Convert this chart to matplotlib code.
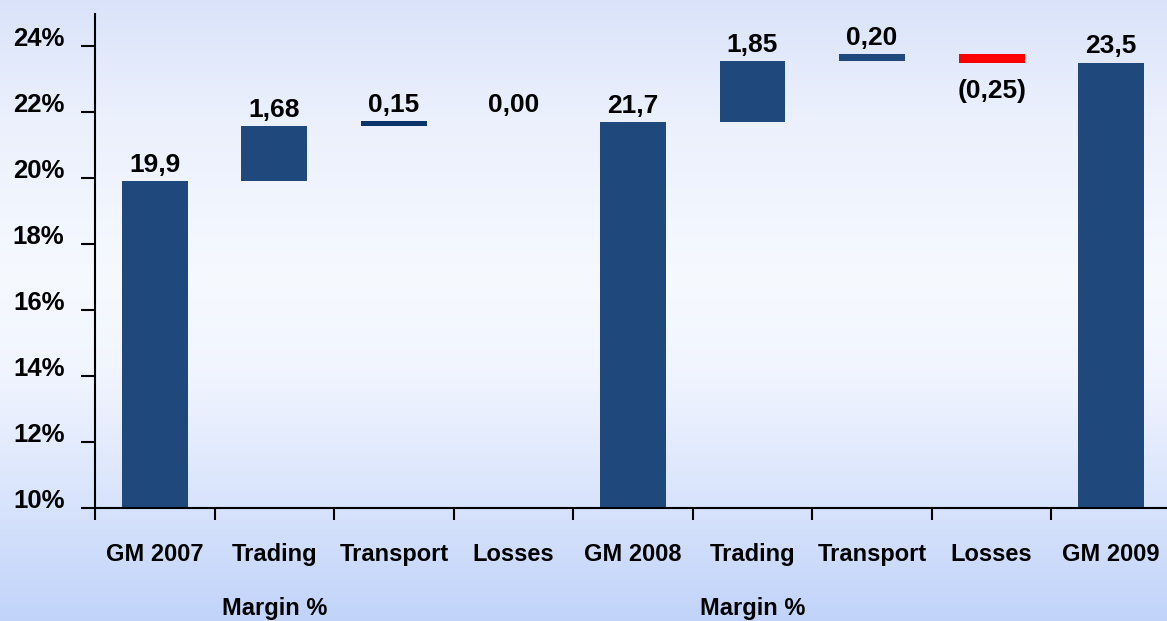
import matplotlib
matplotlib.use('Agg')
import matplotlib.pyplot as plt
import numpy as np
from matplotlib.colors import LinearSegmentedColormap

# ---- data ----
categories = ['GM 2007', 'Trading', 'Transport', 'Losses', 'GM 2008',
              'Trading', 'Transport', 'Losses', 'GM 2009']
values = [19.9, 1.68, 0.15, 0.00, 21.7, 1.85, 0.20, -0.25, 23.5]
kinds = ['total', 'delta', 'delta', 'delta', 'total',
         'delta', 'delta', 'delta', 'total']
value_labels = ['19,9', '1,68', '0,15', '0,00', '21,7', '1,85', '0,20', '(0,25)', '23,5']
group_labels = ['Margin %', 'Margin %']
group_label_at = [1, 5]
yticks = [10, 12, 14, 16, 18, 20, 22, 24]
ytick_labels = ['10%', '12%', '14%', '16%', '18%', '20%', '22%', '24%']

# ---- styles ----
plt.rcParams['font.family'] = ['Liberation Sans', 'DejaVu Sans']
plt.rcParams['font.weight'] = 'bold'
BLUE = '#1F497D'
DARK = '#0A346A'
RED = '#FF0000'
bar_colors = [BLUE, BLUE, DARK, BLUE, BLUE, BLUE, BLUE, RED, BLUE]

fig = plt.figure(figsize=(11.67, 6.21), dpi=100)

# background gradient
bg = fig.add_axes([0, 0, 1, 1], zorder=-10)
cmap = LinearSegmentedColormap.from_list('bg', [
    (0.00, (0.855, 0.890, 0.980)),
    (0.18, (0.920, 0.940, 0.990)),
    (0.45, (0.965, 0.978, 1.000)),
    (0.60, (0.945, 0.960, 0.998)),
    (1.00, (0.760, 0.830, 0.980)),
])
grad = np.linspace(0, 1, 256).reshape(-1, 1)
bg.imshow(grad, aspect='auto', cmap=cmap, extent=[0, 1, 1, 0])
bg.set_axis_off()

ax = fig.add_axes([95 / 1167, 1 - 508 / 621, (1171 - 95) / 1167, (508 - 14) / 621])
ax.set_facecolor('none')

x = np.arange(len(categories))
running = 0.0
bottoms, heights = [], []
for v, k in zip(values, kinds):
    if k == 'total':
        bottoms.append(0.0)
        heights.append(v)
        running = v
    else:
        if v >= 0:
            bottoms.append(running)
            heights.append(v)
        else:
            bottoms.append(running + v)
            heights.append(-v)
        running += v

ax.bar(x, heights, bottom=bottoms, width=0.55, color=bar_colors, zorder=2)

for xi, v, k, b, h, lab in zip(x, values, kinds, bottoms, heights, value_labels):
    if v >= 0:
        ax.annotate(lab, xy=(xi, b + h), xytext=(0, 6.5), textcoords='offset points',
                    ha='center', va='baseline', fontsize=19, fontweight='bold')
    else:
        ax.annotate(lab, xy=(xi, b), xytext=(0, -12), textcoords='offset points',
                    ha='center', va='top', fontsize=19, fontweight='bold')

ax.set_xlim(-0.5, len(categories) - 0.5)
ax.set_ylim(10, 24.97)

ax.set_yticks(yticks)
ax.set_yticklabels(ytick_labels, fontsize=18.5, fontweight='bold')
for t in ax.get_yticklabels():
    t.set_verticalalignment('baseline')
ax.tick_params(axis='y', length=10, width=1.5, pad=12, direction='out')

ax.set_xticks(x)
ax.set_xticklabels(categories, fontsize=17, fontweight='bold')
ax.set_xticks(np.arange(-0.5, len(categories), 1), minor=True)
ax.tick_params(axis='x', which='major', length=0, pad=25.5)
ax.tick_params(axis='x', which='minor', length=8.6, width=1.5, direction='out')

for gx, gl in zip(group_label_at, group_labels):
    ax.annotate(gl, xy=(gx, 0), xycoords=('data', 'axes fraction'),
                xytext=(0, -77), textcoords='offset points',
                ha='center', va='baseline', fontsize=17, fontweight='bold',
                annotation_clip=False)

for s in ['top', 'right']:
    ax.spines[s].set_visible(False)
for s in ['left', 'bottom']:
    ax.spines[s].set_linewidth(1.5)
    ax.spines[s].set_color('black')

fig.savefig('out.png', dpi=100)
